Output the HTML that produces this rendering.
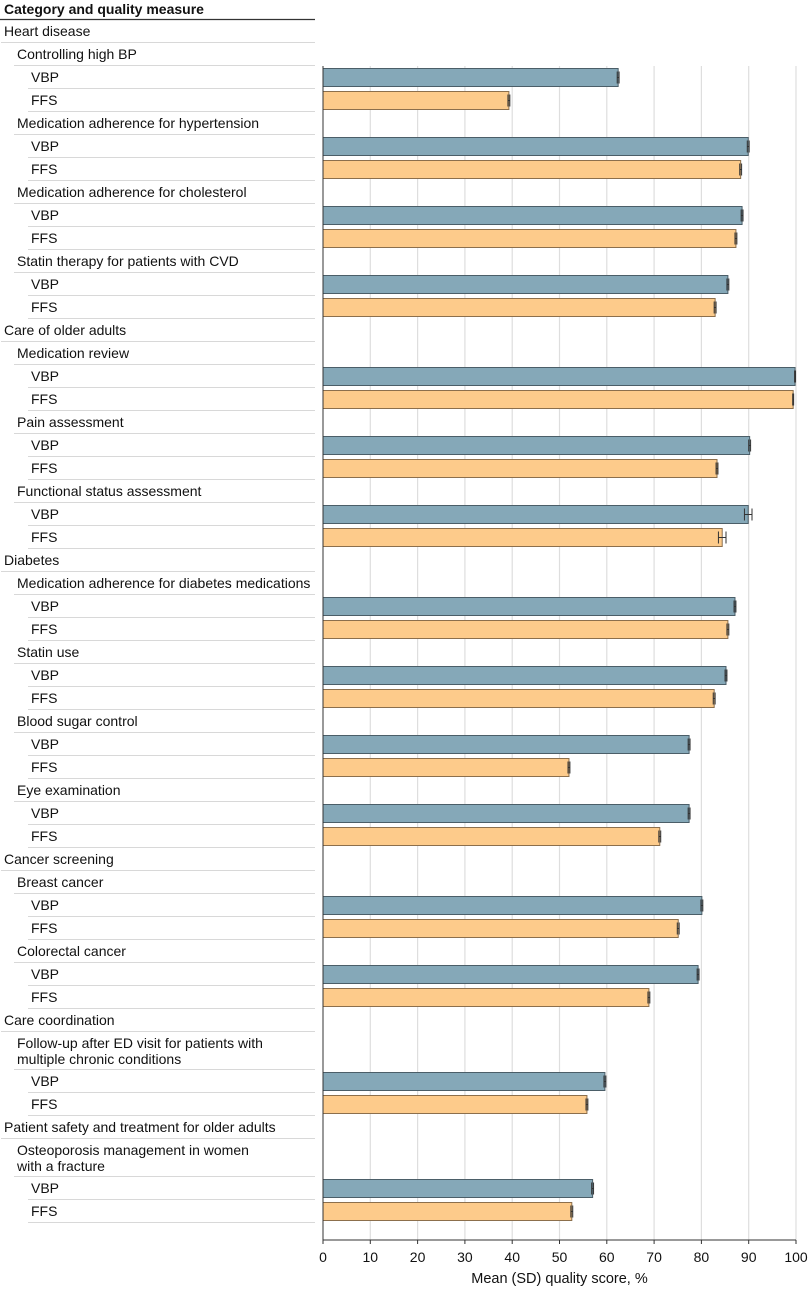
<!DOCTYPE html>
<html><head><meta charset="utf-8">
<style>
html,body{margin:0;padding:0;background:#fff;}
svg{display:block;font-family:"Liberation Sans",sans-serif;}
</style></head>
<body>
<svg id="chart" width="810" height="1289" viewBox="0 0 810 1289"></svg>
<script>
// Row labels (level 0 = category, 1 = measure, 2 = group)
const rowLabels = ["Heart disease","Controlling high BP","VBP","FFS","Medication adherence for hypertension","VBP","FFS","Medication adherence for cholesterol","VBP","FFS","Statin therapy for patients with CVD","VBP","FFS","Care of older adults","Medication review","VBP","FFS","Pain assessment","VBP","FFS","Functional status assessment","VBP","FFS","Diabetes","Medication adherence for diabetes medications","VBP","FFS","Statin use","VBP","FFS","Blood sugar control","VBP","FFS","Eye examination","VBP","FFS","Cancer screening","Breast cancer","VBP","FFS","Colorectal cancer","VBP","FFS","Care coordination","Follow-up after ED visit for patients with|multiple chronic conditions","VBP","FFS","Patient safety and treatment for older adults","Osteoporosis management in women|with a fracture","VBP","FFS"];
const rowLevels = [0,1,2,2,1,2,2,1,2,2,1,2,2,0,1,2,2,1,2,2,1,2,2,0,1,2,2,1,2,2,1,2,2,1,2,2,0,1,2,2,1,2,2,0,1,2,2,0,1,2,2];
// Bar values in order of VBP/FFS rows
const vbpValues = [62.4,89.9,88.6,85.6,99.8,90.2,89.9,87.1,85.2,77.4,77.4,80.1,79.3,59.6,57.0];
const ffsValues = [39.3,88.3,87.3,82.9,99.4,83.3,84.4,85.6,82.7,52.0,71.2,75.1,68.9,55.8,52.6];
const vbpSD = [0.2,0.2,0.2,0.2,0.1,0.2,0.8,0.2,0.2,0.2,0.2,0.2,0.2,0.2,0.2];
const ffsSD = [0.2,0.2,0.2,0.2,0.1,0.2,0.8,0.2,0.2,0.2,0.2,0.2,0.2,0.2,0.2];
const tickValues = [0,10,20,30,40,50,60,70,80,90,100];

const svg = document.getElementById('chart');
const NS = 'http://www.w3.org/2000/svg';
function mk(tag, attrs, parent){const e=document.createElementNS(NS,tag);for(const k in attrs)e.setAttribute(k,attrs[k]);(parent||svg).appendChild(e);return e;}
const x0=323, x1=796;
function xScale(v){return x0+(x1-x0)*v/100;}
const axisY=1240;

const hdr = mk('text',{x:4,y:14,'font-size':14,'font-weight':'bold',fill:'#111'});
hdr.textContent='Category and quality measure';


const hl = mk('line',{x1:0,x2:315,y1:19.5,y2:19.5,stroke:'#333','stroke-width':1.2});



tickValues.forEach(t=>{
  if(t===0) return;
  const g = mk('line',{x1:xScale(t),x2:xScale(t),y1:66,y2:axisY,stroke:'#dedede','stroke-width':1.2});
  
  
});

let y=20, vi=0, fi=0;
const indents=[4,17,31];
rowLabels.forEach((lab,i)=>{
  const lvl=rowLevels[i];
  const lines=lab.split('|');
  const h = lines.length>1 ? 38 : 23;
  lines.forEach((ln,k)=>{
    const t = mk('text',{x:indents[lvl],y:y+16+k*16,'font-size':14,fill:'#111'});
    t.textContent=ln;
    
    
  });
  const sep = mk('line',{x1:indents[lvl]-3<0?0:indents[lvl]-3,x2:315,y1:y+h-0.5,y2:y+h-0.5,stroke:'#d8d8d8','stroke-width':1});
  
  
  if(lab==='VBP'||lab==='FFS'){
    const isV = lab==='VBP';
    const v = isV?vbpValues[vi]:ffsValues[fi];
    const sd = isV?vbpSD[vi]:ffsSD[fi];
    if(isV) vi++; else fi++;
    const cy=y+h/2;
    const r = mk('rect',{x:x0,y:cy-9,width:xScale(v)-x0,height:18,fill:isV?'#85a8b8':'#fdcb8b',stroke:isV?'#4b5e68':'#8c6f4c','stroke-width':1});
    
    
    const eg = mk('g',{stroke:'#333','stroke-width':1});
    
    
    const a=xScale(v-sd), b=xScale(v+sd);
    mk('line',{x1:a,x2:b,y1:cy,y2:cy},eg);
    mk('line',{x1:a,x2:a,y1:cy-6,y2:cy+6},eg);
    mk('line',{x1:b,x2:b,y1:cy-6,y2:cy+6},eg);
  }
  y+=h;
});

const ax = mk('line',{x1:x0,x2:x1,y1:axisY,y2:axisY,stroke:'#333','stroke-width':1});


const yax = mk('line',{x1:x0,x2:x0,y1:66,y2:axisY+4,stroke:'#333','stroke-width':1});


tickValues.forEach(t=>{
  const tk = mk('line',{x1:xScale(t),x2:xScale(t),y1:axisY,y2:axisY+4,stroke:'#333','stroke-width':1});
  
  
  const tl = mk('text',{x:xScale(t),y:axisY+22,'font-size':14,'text-anchor':'middle',fill:'#111'});
  tl.textContent=String(t);
  
  
});
const at = mk('text',{x:(x0+x1)/2,y:1283,'font-size':14.5,'text-anchor':'middle',fill:'#111'});
at.textContent='Mean (SD) quality score, %';


</script>
</body></html>
